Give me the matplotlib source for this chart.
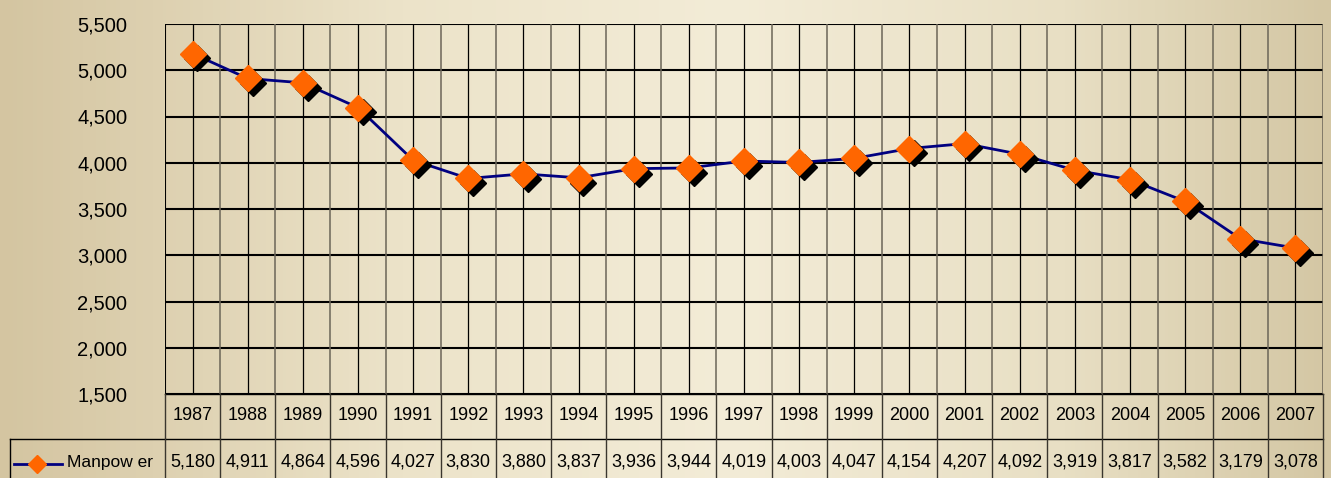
import numpy as np
import matplotlib
matplotlib.use("Agg")
import matplotlib.pyplot as plt
import matplotlib.transforms as mtransforms
from matplotlib.colors import LinearSegmentedColormap

plt.rcParams['font.family'] = ['Liberation Sans', 'DejaVu Sans']

years = ['1987', '1988', '1989', '1990', '1991', '1992', '1993', '1994', '1995', '1996', '1997',
         '1998', '1999', '2000', '2001', '2002', '2003', '2004', '2005', '2006', '2007']
manpower = [5180, 4911, 4864, 4596, 4027, 3830, 3880, 3837, 3936, 3944, 4019,
            4003, 4047, 4154, 4207, 4092, 3919, 3817, 3582, 3179, 3078]
series_name = 'Manpow er'
y_ticks = [1500, 2000, 2500, 3000, 3500, 4000, 4500, 5000, 5500]

W, H = 1331, 478
fig = plt.figure(figsize=(W / 100, H / 100), dpi=100)

# background gradient
bg = fig.add_axes([0, 0, 1, 1], zorder=-10)
bg.set_axis_off()
cmap = LinearSegmentedColormap.from_list('bg', [(0, '#d4c5a1'), (0.3, '#ece3c9'), (0.55, '#f3ecd7'),
                                                (0.8, '#e8dfc4'), (1, '#d4c7a4')])
bg.imshow(np.linspace(0, 1, 400)[None, :], aspect='auto', cmap=cmap, extent=[0, 1, 0, 1])
bg.set_xlim(0, 1)
bg.set_ylim(0, 1)

L, R, T, B = 165, 1323, 24, 394
ax = fig.add_axes([L / W, 1 - B / H, (R - L) / W, (B - T) / H])
ax.patch.set_alpha(0)
n = len(years)
x = np.arange(n)
ax.set_xlim(-0.5, n - 0.5)
ax.set_ylim(1500, 5500)

for yv in y_ticks:
    ax.axhline(yv, color='black', lw=1.5, zorder=1)
for i in x:
    ax.axvline(i, color='black', lw=0.9, zorder=1)
    ax.axvline(i + 0.5, color='#6b6558', lw=1.1, zorder=1)
for s in ax.spines.values():
    s.set_visible(False)
ax.plot([-0.5, -0.5], [1500, 5500], color='black', lw=1.5, zorder=1)

ax.set_xticks([])
ax.set_yticks(y_ticks)
ax.set_yticklabels([f'{v:,}' for v in y_ticks], fontsize=14.5)
ax.tick_params(axis='y', length=0, pad=27)

ax.plot(x, manpower, color='#000080', lw=2, zorder=3)
shadow = mtransforms.offset_copy(ax.transData, fig=fig, x=3.5, y=-3.5, units='points')
ax.plot(x, manpower, linestyle='none', marker='D', markersize=13.5, color='black',
        transform=shadow, zorder=4)
ax.plot(x, manpower, linestyle='none', marker='D', markersize=13.5, color='#ff6600',
        markeredgecolor='#ff6600', zorder=5)

# data table below the plot area
trans = mtransforms.blended_transform_factory(ax.transData, fig.transFigure)
ftrans = fig.transFigure
def fy(py):
    return 1 - py / H

row1_bot = 439
line_kw = dict(color='black', lw=1, clip_on=False)
ax.plot([-0.5, n - 0.5], [fy(row1_bot)] * 2, transform=trans, **line_kw)
ax.plot([-0.5, n - 0.5], [fy(B)] * 2, transform=trans, **line_kw)
ax.plot([10 / W, L / W], [fy(row1_bot)] * 2, transform=ftrans, **line_kw)
ax.plot([10 / W, 10 / W], [fy(row1_bot), 0], transform=ftrans, **line_kw)
for i in range(n + 1):
    ax.plot([i - 0.5, i - 0.5], [fy(B), 0], transform=trans, color='#3a362e', lw=1, clip_on=False)

for i in x:
    ax.text(i, fy(416), years[i], transform=trans, ha='center', va='center', fontsize=13)
    ax.text(i, fy(462), f'{manpower[i]:,}', transform=trans, ha='center', va='center', fontsize=13)

ax.plot([14 / W, 62 / W], [fy(464)] * 2, transform=ftrans, color='#000080', lw=2, clip_on=False)
ax.plot([37 / W], [fy(464)], transform=ftrans, marker='D', markersize=9, color='#ff6600',
        clip_on=False)
ax.text(67 / W, fy(463), series_name, transform=ftrans, ha='left', va='center', fontsize=12.5)

fig.savefig('out.png', dpi=100)
